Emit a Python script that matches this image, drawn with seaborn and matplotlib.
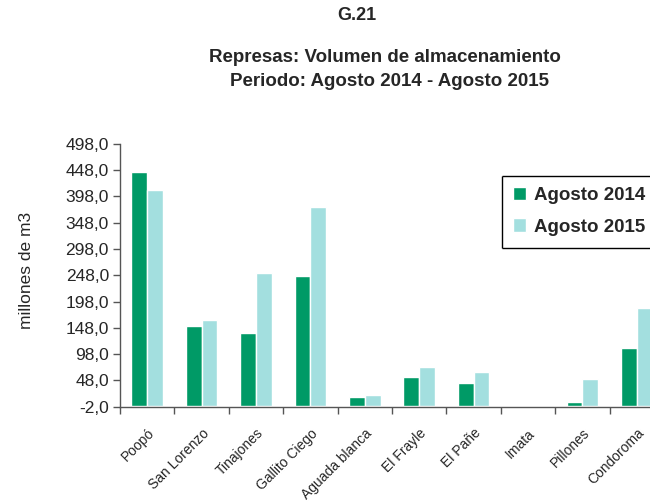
import pandas as pd
import seaborn as sns
import matplotlib.pyplot as plt
from matplotlib.lines import Line2D
from matplotlib.ticker import FixedLocator

# Data (millones de m3)
represas = ["Poopó", "San Lorenzo", "Tinajones", "Gallito Ciego", "Aguada blanca",
            "El Frayle", "El Pañe", "Imata", "Pillones", "Condoroma"]
agosto_2014 = [444, 151, 138, 246, 16, 54, 43, 0, 6, 109]
agosto_2015 = [410, 162, 252, 377, 20, 73, 64, 0, 50, 185]
periodos = ["Agosto 2014", "Agosto 2015"]
yticks = [-2 + 50 * i for i in range(11)]

df = pd.DataFrame({
    "Represa": represas * 2,
    "Volumen": agosto_2014 + agosto_2015,
    "Periodo": [periodos[0]] * len(represas) + [periodos[1]] * len(represas),
})

sns.set_theme(style="white")
plt.rcParams['font.family'] = ['Liberation Sans', 'DejaVu Sans']

fig = plt.figure(figsize=(6.5, 5.03), dpi=100)
ax = fig.add_axes([120 / 650, 96.3 / 503, 544 / 650, 263 / 503])

sns.barplot(data=df, x="Represa", y="Volumen", hue="Periodo",
            palette=["#009A66", "#A3DFDF"], saturation=1, width=0.58, gap=0,
            ax=ax)

ax.set_xlim(-0.5, len(represas) - 0.5)
ax.set_ylim(-2, 498)
ax.set_yticks(yticks)
ax.set_yticklabels([f"{v:.1f}".replace(".", ",") for v in yticks], fontsize=12.5)
ax.set_xlabel("")
ax.set_ylabel("millones de m3", fontsize=12.5)
ax.yaxis.set_label_coords(-0.158, 0.52)

# category labels at centres, tick marks at the boundaries
ax.set_xticks(range(len(represas)))
ax.set_xticklabels(represas, rotation=45, ha="right", va="top",
                   rotation_mode="anchor", fontsize=10)
ax.tick_params(axis="x", which="major", length=0, pad=14)
ax.xaxis.set_minor_locator(FixedLocator([i - 0.5 for i in range(len(represas) + 1)]))
ax.tick_params(axis="x", which="minor", length=5, width=1, color="#555555",
               direction="out", bottom=True)
ax.tick_params(axis="y", length=5, width=1, color="#555555", direction="out",
               left=True, pad=3)

for side in ["top", "right"]:
    ax.spines[side].set_visible(False)
for side in ["left", "bottom"]:
    ax.spines[side].set_color("#555555")
    ax.spines[side].set_linewidth(1)

# legend; its box is open on the right, cut by the picture edge as in the original
handles, labels = ax.get_legend_handles_labels()
leg = ax.legend(handles, labels, loc="upper left",
                bbox_to_anchor=(502 / 650, 1 - 176 / 503),
                bbox_transform=fig.transFigure,
                prop={"weight": "bold", "size": 13.5}, frameon=False,
                handlelength=0.7, handleheight=0.7, handletextpad=0.4,
                labelspacing=0.75, borderpad=0.6, borderaxespad=0)
x0, x1 = 502 / 650, 1.0
y0, y1 = 1 - 248 / 503, 1 - 176 / 503
for xs, ys in [([x0, x1], [y1, y1]), ([x0, x0], [y0, y1]), ([x0, x1], [y0, y0])]:
    fig.add_artist(Line2D(xs, ys, transform=fig.transFigure, color="black",
                          linewidth=1, solid_capstyle="butt"))

fig.text(357 / 650, 1 - 16 / 503, "G.21", ha="center", va="center",
         fontsize=13, fontweight="bold")
fig.text(385 / 650, 1 - 57 / 503, "Represas: Volumen de almacenamiento",
         ha="center", va="center", fontsize=13.5, fontweight="bold")
fig.text(390 / 650, 1 - 82 / 503, "Periodo: Agosto 2014 - Agosto 2015",
         ha="center", va="center", fontsize=13.5, fontweight="bold")

plt.savefig("out.png", dpi=100)
